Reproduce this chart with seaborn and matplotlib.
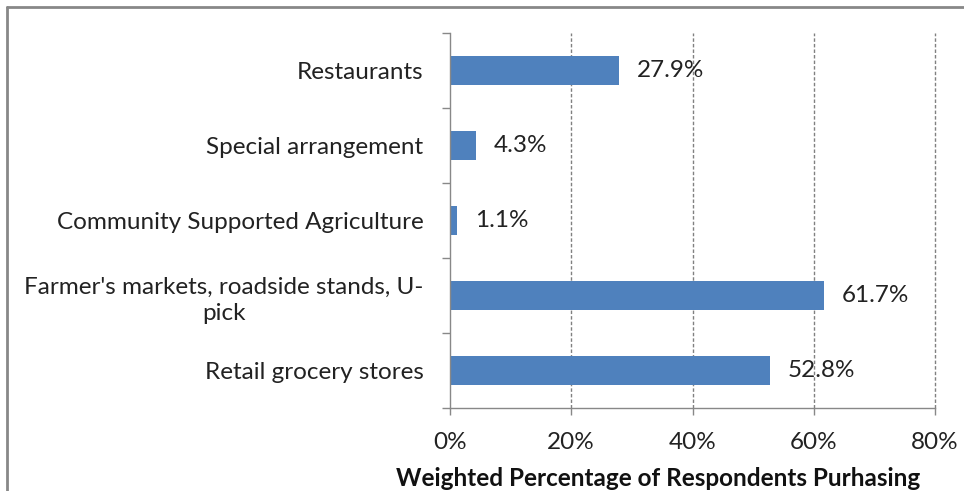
import matplotlib
matplotlib.use("Agg")
import matplotlib.pyplot as plt
from matplotlib.lines import Line2D
from matplotlib.ticker import PercentFormatter
import seaborn as sns
import pandas as pd

categories = [
    "Restaurants",
    "Special arrangement",
    "Community Supported Agriculture",
    "Farmer's markets, roadside stands, U-\npick",
    "Retail grocery stores",
]
percentages = [27.9, 4.3, 1.1, 61.7, 52.8]
x_ticks = [0, 20, 40, 60, 80]
x_label = "Weighted Percentage of Respondents Purhasing"

df = pd.DataFrame({"channel": categories, "pct": percentages})

sns.set_theme(style="white")
plt.rcParams["font.family"] = ["Lato", "DejaVu Sans"]
FS = 17.5

fig = plt.figure(figsize=(9.64, 4.91), dpi=100)
ax = fig.add_axes([450 / 964, 1 - 408 / 491, 485 / 964, 375 / 491])

sns.barplot(data=df, x="pct", y="channel", orient="h", color="#4F81BD",
            saturation=1, width=0.39, ax=ax, edgecolor="none")

ax.set_xlim(0, 80)
ax.set_ylim(len(categories) - 0.5, -0.5)
ax.set_xticks(x_ticks)
ax.xaxis.set_major_formatter(PercentFormatter(decimals=0))
ax.set_xlabel("")
ax.set_ylabel("")

# category boundaries carry the y ticks; labels sit at the centres
ax.set_yticks([i - 0.5 for i in range(len(categories) + 1)], minor=False)
ax.set_yticklabels([])
ax.set_yticks(range(len(categories)), minor=True)
ax.set_yticklabels(categories, minor=True, fontsize=FS, color="#222222",
                   multialignment="center", linespacing=1.3)
ax.tick_params(axis="y", which="major", length=6, width=1, color="#888888",
               direction="out", left=True)
ax.tick_params(axis="y", which="minor", length=0, pad=19)
ax.tick_params(axis="x", length=5, width=1, color="#888888", direction="out",
               bottom=True, labelsize=FS, labelcolor="#222222", pad=12)

for x in x_ticks[1:]:
    ax.axvline(x, color="#808080", lw=1.0, ls=(0, (2.5, 1.5)), zorder=0,
               clip_on=False)

for side in ("top", "right"):
    ax.spines[side].set_visible(False)
for side in ("left", "bottom"):
    ax.spines[side].set_color("#888888")
    ax.spines[side].set_linewidth(1)

for i, v in enumerate(percentages):
    ax.annotate(f"{v:.1f}%", (v, i), xytext=(13, 0), textcoords="offset points",
                va="center", ha="left", fontsize=FS, color="#222222")

fig.text(658 / 964, 1 - 479 / 491, x_label, ha="center", va="center",
         fontsize=FS, fontweight="bold", color="#111111")

# outer frame on the left and top edges
fig.add_artist(Line2D([7 / 964, 7 / 964], [0, 1 - 7 / 491], color="#888888",
                      lw=2, transform=fig.transFigure))
fig.add_artist(Line2D([7 / 964, 1], [1 - 7 / 491, 1 - 7 / 491], color="#888888",
                      lw=2, transform=fig.transFigure))

fig.savefig("out.png", dpi=100)
